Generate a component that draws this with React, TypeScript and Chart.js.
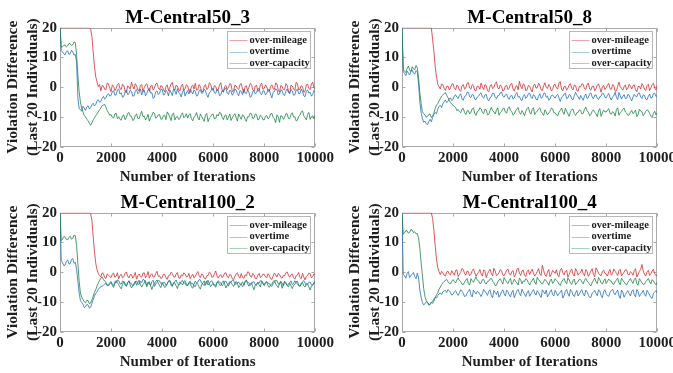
import React, { useEffect, useRef } from "react";
import { Chart, registerables } from "chart.js";

Chart.register(...registerables);

// ---------------- data ----------------
const ITERATIONS = [
  0, 50, 100, 150, 200, 250, 300, 350, 400, 450, 500, 550, 600, 650, 700, 750, 800, 850, 900, 950,
  1000, 1050, 1100, 1150, 1200, 1250, 1300, 1350, 1400, 1450, 1500, 1550, 1600, 1650, 1700, 1750, 1800, 1850, 1900, 1950,
  2000, 2050, 2100, 2150, 2200, 2250, 2300, 2350, 2400, 2450, 2500, 2550, 2600, 2650, 2700, 2750, 2800, 2850, 2900, 2950,
  3000, 3050, 3100, 3150, 3200, 3250, 3300, 3350, 3400, 3450, 3500, 3550, 3600, 3650, 3700, 3750, 3800, 3850, 3900, 3950,
  4000, 4050, 4100, 4150, 4200, 4250, 4300, 4350, 4400, 4450, 4500, 4550, 4600, 4650, 4700, 4750, 4800, 4850, 4900, 4950,
  5000, 5050, 5100, 5150, 5200, 5250, 5300, 5350, 5400, 5450, 5500, 5550, 5600, 5650, 5700, 5750, 5800, 5850, 5900, 5950,
  6000, 6050, 6100, 6150, 6200, 6250, 6300, 6350, 6400, 6450, 6500, 6550, 6600, 6650, 6700, 6750, 6800, 6850, 6900, 6950,
  7000, 7050, 7100, 7150, 7200, 7250, 7300, 7350, 7400, 7450, 7500, 7550, 7600, 7650, 7700, 7750, 7800, 7850, 7900, 7950,
  8000, 8050, 8100, 8150, 8200, 8250, 8300, 8350, 8400, 8450, 8500, 8550, 8600, 8650, 8700, 8750, 8800, 8850, 8900, 8950,
  9000, 9050, 9100, 9150, 9200, 9250, 9300, 9350, 9400, 9450, 9500, 9550, 9600, 9650, 9700, 9750, 9800, 9850, 9900, 9950,
  10000,
];

const SERIES_NAMES = ["over-mileage", "overtime", "over-capacity"];
const PANEL_TITLES = ["M-Central50_3", "M-Central50_8", "M-Central100_2", "M-Central100_4"];
const X_TICKS = [0, 2000, 4000, 6000, 8000, 10000];
const Y_TICKS = [-20, -10, 0, 10, 20];
const X_LABEL = "Number of Iterations";
const Y_LABEL = ["Violation Difference", "(Last 20 Individuals)"];

// ---- M-Central50_3 ----
const P1_MILEAGE = [
  20, 20, 20, 20, 20, 20, 20, 20, 20, 20, 20, 20, 20, 20, 20, 20, 20, 20, 20, 20,
  20, 20, 20, 20, 19.5, 17, 12, 7, 3.5, 1.8, 0.2, 0.9, -1.2, 0.6, 0.4, -0.7, -0.9, 1.4, 1.1, -0.3,
  -1.5, 0.8, 0.2, -1.1, -0.4, 0.9, 1.3, -0.5, -0.8, 1.0, 0.6, -1.3, -1.9, 0.4, 0.1, -0.7, 1.7, 0.3, -0.6, 1.2,
  0.5, -0.9, -1.2, 0.6, 0.9, -1.6, -0.2, 0.8, 1.2, -0.5, -1.4, 0.4, 0.7, -1.0, -0.3, 1.1, 1.4, -0.2, -0.8, 0.5,
  0.3, -0.7, -1.6, 0.2, 0.8, -1.2, -0.1, 1.0, 1.6, -0.4, -1.0, 0.7, 0.4, -0.9, -1.3, 0.5, 1.0, -1.1, -0.5, 0.8,
  0.5, -1.2, -1.8, 0.3, 0.7, -0.6, 1.3, -1.0, -0.9, 0.9, 0.2, -1.5, -1.4, 0.4, 0.9, -0.8, -0.3, 1.5, 1.1, -0.6,
  -1.1, 0.6, 0.3, -1.3, -0.7, 0.8, 1.5, -0.9, -1.6, 0.2, 0.6, -0.8, -0.1, 1.2, 1.0, -1.5, -1.2, 0.7, 0.4, -0.4,
  -0.8, 0.9, 1.2, -0.6, -2.0, 0.1, 0.5, -1.1, -0.2, 1.3, 0.9, -0.9, -1.3, 0.4, 0.7, -1.4, -1.0, 0.8, 1.4, -0.7,
  -0.4, 0.8, 0.1, -1.2, -1.5, 0.3, 0.8, -0.5, -0.7, 1.4, 1.1, -1.0, -1.7, 0.6, 0.3, -0.8, -0.9, 1.2, 0.6, -1.3,
  -2.2, 0.7, 0.4, -0.6, -1.1, 1.6, 1.3, -0.9, -0.6, 0.5, 0.2, -1.7, -1.4, 0.8, 1.0, -0.4, -0.8, 1.1, 1.7, -0.3,
  -0.5,
];
const P1_OVERTIME = [
  20, 12.3, 11.8, 11.2, 10.9, 12.0, 12.2, 11.0, 11.3, 12.4, 11.9, 10.8, 11.0, 8.5, -3.5, -7.2, -7.5, -8.1, -6.4, -7.0,
  -7.8, -6.6, -6.2, -7.3, -6.9, -5.9, -5.4, -6.3, -5.8, -4.6, -4.2, -5.1, -4.8, -3.7, -3.1, -4.0, -3.6, -2.5, -2.2, -3.0,
  -2.8, -1.5, -1.2, -2.7, -2.5, -0.9, -0.6, -2.3, -1.9, -3.4, -3.1, -1.6, -0.9, -2.5, -2.2, -1.0, -1.4, -3.0, -2.9, -1.3,
  -0.8, -2.2, -1.7, -0.6, -2.6, -1.5, -1.0, -2.9, -2.1, -0.8, -0.4, -2.0, -1.8, -3.8, -3.3, -1.6, -1.2, -2.5, -2.0, -0.7,
  -0.7, -2.6, -2.4, -1.1, -1.5, -2.9, -0.9, -1.8, -2.8, -0.6, -1.3, -2.4, -0.5, -1.7, -2.2, -3.3, -1.6, -0.8, -3.0, -1.9,
  -1.1, -2.3, -0.6, -1.5, -2.3, -0.9, -1.4, -3.0, -2.7, -1.2, -0.8, -2.1, -1.9, -0.7, -1.2, -2.6, -3.4, -1.8, -1.5, -0.4,
  -0.6, -1.9, -2.1, -0.8, -1.0, -2.9, -2.6, -1.1, -1.7, -0.5, -0.3, -2.0, -2.4, -1.0, -1.3, -2.7, -2.0, -0.6, -0.9, -2.2,
  -2.9, -1.1, -1.4, -2.5, -0.7, -1.8, -2.2, -0.9, -1.6, -3.4, -3.1, -1.5, -1.0, -2.3, -1.8, -0.6, -0.5, -2.1, -2.5, -1.2,
  -1.3, -2.6, -2.0, -0.9, -0.8, -2.4, -3.6, -1.7, -1.5, -0.5, -0.9, -2.6, -2.3, -1.0, -1.1, -2.5, -2.8, -1.3, -0.6, -1.8,
  -1.9, -0.8, -1.2, -2.7, -2.6, -1.0, -0.7, -2.2, -2.1, -0.6, -1.4, -2.9, -3.2, -1.5, -0.9, -2.0, -1.7, -3.0, -2.4, -1.1,
  -1.6,
];
const P1_CAPACITY = [
  20, 13.4, 13.6, 14.1, 14.2, 13.5, 13.9, 14.7, 14.6, 14.0, 14.3, 15.2, 15.0, 11.0, 4.0, -1.5, -5.0, -7.2, -8.3, -9.5,
  -10.0, -10.8, -11.2, -12.1, -12.8, -12.0, -11.0, -10.3, -9.6, -9.0, -8.3, -7.6, -7.0, -6.2, -6.0, -5.8, -6.8, -7.9, -8.6, -9.4,
  -9.2, -10.1, -10.4, -9.0, -8.7, -10.6, -9.9, -10.8, -11.1, -9.6, -9.3, -10.9, -10.2, -8.8, -8.5, -9.7, -9.8, -11.2, -10.9, -9.4,
  -9.0, -10.5, -10.6, -9.2, -8.1, -9.9, -9.7, -11.0, -10.3, -9.1, -11.4, -10.2, -9.5, -8.4, -8.8, -10.4, -10.1, -9.3, -9.2, -10.7,
  -10.8, -9.6, -9.4, -10.9, -8.3, -9.0, -10.0, -11.2, -9.1, -8.7, -11.0, -10.1, -9.8, -10.9, -10.5, -9.2, -8.6, -10.3, -9.9, -8.9,
  -10.4, -9.3, -8.9, -10.6, -11.3, -10.1, -9.6, -8.5, -10.2, -11.0, -9.0, -9.8, -10.7, -11.5, -9.4, -8.8, -11.6, -10.4, -10.0, -9.1,
  -9.1, -10.7, -10.5, -9.2, -9.7, -8.4, -8.7, -10.1, -10.9, -9.6, -9.3, -11.0, -10.1, -9.0, -11.2, -10.3, -9.5, -8.9, -10.3, -11.4,
  -9.0, -9.9, -10.8, -9.3, -9.6, -10.7, -11.5, -9.9, -10.0, -8.7, -8.9, -10.5, -10.4, -9.0, -9.2, -11.0, -10.7, -9.4, -9.8, -10.9,
  -11.0, -9.8, -9.5, -10.6, -10.2, -9.0, -8.8, -10.1, -10.6, -11.9, -9.3, -10.0, -11.8, -9.6, -9.7, -10.8, -10.1, -8.9, -9.0, -10.5,
  -10.5, -9.2, -8.6, -10.0, -9.9, -11.3, -11.1, -9.8, -9.4, -8.4, -7.9, -9.6, -10.3, -11.0, -9.1, -8.5, -10.8, -9.9, -9.6, -10.6,
  -9.3,
];

// ---- M-Central50_8 ----
const P2_MILEAGE = [
  20, 20, 20, 20, 20, 20, 20, 20, 20, 20, 20, 20, 20, 20, 20, 20, 20, 20, 20, 20,
  20, 20, 20, 20, 16, 12, 7, 3.5, 1.0, 0.2, -0.6, 1.1, 0.8, -0.4, -1.1, 0.3, 0.4, -0.9, -0.3, 1.0,
  1.2, -0.4, -0.9, 0.7, 0.3, -1.0, -1.4, 0.5, 0.9, -0.6, -0.2, 1.3, 1.6, -0.3, -0.7, 0.9, 0.5, -1.1, -1.2, 0.4,
  0.2, -0.7, 1.4, 0.1, -0.8, 0.9, 0.6, -1.2, -1.5, 0.4, 0.9, -0.5, -0.1, 1.2, 1.8, -0.2, -0.6, 0.8, 0.3, -1.3,
  -1.0, 0.4, 0.7, -0.8, -0.4, 1.0, 1.3, -0.6, -1.3, 0.2, 0.5, -0.9, 2.0, 0.3, -0.5, 1.1, 0.8, -1.2, -0.9, 0.6,
  0.4, -0.8, -1.6, 0.6, 1.1, -0.3, -0.2, 1.4, 0.7, -0.9, -1.1, 0.5, 1.5, -0.1, -0.4, 0.9, 0.2, -1.3, -0.8, 0.8,
  1.0, -0.3, -0.6, 1.3, 1.9, -0.7, -1.2, 0.2, 0.3, -1.0, -0.3, 0.8, 1.2, -0.4, -0.9, 0.7, 0.6, -1.1, -1.4, 0.3,
  0.1, 1.2, 0.9, -0.5, -0.7, 0.8, 1.4, -0.6, -1.0, 0.3, 0.4, -1.2, -0.5, 0.7, 1.1, -0.2, -1.7, 0.1, 0.6, -0.8,
  -0.2, 0.7, 1.3, -0.5, -0.8, 0.9, 0.5, -1.4, -1.2, 0.3, 1.7, 0.2, -0.4, -1.0, 0.2, 0.8, -0.9, -0.3, 1.0, 0.4,
  -0.6, 0.5, 0.8, -0.9, -1.5, 0.2, 0.3, -0.6, 1.2, 0.6, -0.7, -1.1, 0.5, 1.0, -1.1, -0.3, 0.9, 1.3, -0.3, -0.9,
  0.6,
];
const P2_OVERTIME = [
  20, 5.2, 4.6, 3.9, 5.4, 4.8, 4.1, 5.3, 5.8, 4.7, 4.4, 5.6, 5.1, 1.0, -5.0, -8.6, -10.5, -11.8, -11.4, -12.3,
  -12.6, -11.5, -10.8, -11.6, -10.2, -9.1, -8.5, -8.9, -7.4, -6.5, -6.1, -6.8, -5.6, -4.9, -4.3, -5.2, -4.8, -3.9, -3.6, -4.5,
  -4.1, -3.0, -2.5, -3.4, -3.8, -2.7, -2.2, -3.9, -4.4, -3.1, -2.9, -1.7, -1.8, -3.2, -3.5, -2.4, -2.6, -4.0, -4.2, -3.3,
  -3.0, -2.2, -1.9, -3.3, -3.7, -2.6, -2.4, -4.1, -4.6, -3.5, -3.2, -2.0, -2.1, -3.4, -3.9, -2.9, -2.8, -1.9, -1.6, -3.0,
  -3.4, -2.6, -2.3, -3.6, -4.1, -3.0, -2.7, -4.0, -3.6, -2.4, -1.8, -3.3, -3.1, -4.2, -4.5, -3.1, -2.5, -3.8, -3.3, -2.2,
  -2.0, -3.3, -3.8, -2.5, -2.9, -4.0, -4.3, -3.1, -2.2, -3.7, -3.5, -2.1, -1.9, -3.4, -3.0, -4.4, -4.0, -2.8, -2.6, -3.2,
  -3.7, -2.8, -2.4, -3.6, -4.8, -3.4, -3.1, -2.3, -2.0, -3.9, -3.6, -2.5, -2.7, -4.0, -4.2, -2.9, -1.7, -2.6, -3.3, -4.1,
  -2.8, -3.6, -4.4, -3.0, -2.3, -3.8, -3.5, -2.2, -1.9, -3.3, -3.9, -2.7, -2.6, -3.7, -4.1, -3.2, -3.0, -2.0, -2.2, -3.4,
  -3.6, -2.7, -2.1, -3.5, -4.3, -3.2, -2.9, -1.7, -3.4, -4.2, -1.8, -2.9, -4.0, -3.1, -2.5, -3.8, -3.7, -2.4, -2.7, -3.9,
  -4.6, -3.3, -2.4, -3.0, -3.2, -2.1, -1.9, -3.3, -3.8, -2.6, -2.8, -4.0, -4.2, -3.1, -2.3, -3.6, -3.5, -2.2, -2.0, -3.1,
  -2.9,
];
const P2_CAPACITY = [
  20, 6.0, 5.4, 4.9, 6.3, 7.1, 5.8, 5.2, 6.9, 6.1, 5.9, 7.3, 6.5, 3.0, -2.0, -5.5, -8.2, -8.9, -9.3, -10.1,
  -9.8, -9.2, -9.0, -10.2, -9.6, -8.7, -7.2, -6.1, -5.5, -4.6, -3.9, -3.0, -2.6, -2.1, -1.8, -2.7, -3.5, -4.4, -5.2, -5.7,
  -6.1, -6.5, -6.8, -7.9, -7.5, -8.2, -8.6, -7.4, -7.1, -8.5, -9.2, -8.0, -7.8, -9.0, -8.4, -7.3, -6.9, -8.8, -9.5, -8.2,
  -8.0, -6.9, -7.3, -8.5, -8.9, -7.4, -7.6, -9.3, -9.1, -7.8, -6.8, -7.9, -8.3, -9.0, -7.7, -6.9, -9.4, -8.6, -8.1, -7.2,
  -7.0, -8.4, -8.7, -7.1, -6.6, -7.8, -8.2, -9.4, -9.0, -8.0, -7.4, -6.8, -8.5, -9.1, -7.9, -8.6, -9.6, -8.1, -7.2, -6.7,
  -8.4, -9.1, -7.5, -6.9, -9.2, -8.5, -8.0, -7.3, -6.9, -8.2, -8.8, -9.5, -7.6, -8.3, -9.3, -8.7, -8.1, -7.0, -7.3, -8.6,
  -8.6, -9.3, -9.7, -8.4, -7.8, -7.0, -8.3, -9.1, -7.1, -8.0, -9.0, -9.8, -8.2, -7.5, -7.4, -8.8, -9.5, -8.6, -8.5, -7.6,
  -7.9, -9.0, -8.8, -7.4, -6.7, -7.9, -8.4, -9.6, -9.2, -8.1, -7.6, -8.5, -8.9, -9.9, -8.0, -7.2, -9.8, -8.7, -7.7, -8.3,
  -8.3, -7.6, -7.2, -8.8, -9.1, -8.2, -8.6, -9.7, -7.5, -6.9, -9.4, -8.6, -8.1, -7.4, -7.0, -8.3, -8.7, -9.5, -9.3, -8.4,
  -7.8, -8.9, -8.5, -7.7, -9.9, -9.2, -7.4, -8.0, -8.2, -9.6, -9.0, -8.1, -7.6, -7.9, -8.8, -9.7, -10.2, -8.8, -8.1, -9.3,
  -8.6,
];

// ---- M-Central100_2 ----
const P3_MILEAGE = [
  20, 20, 20, 20, 20, 20, 20, 20, 20, 20, 20, 20, 20, 20, 20, 20, 20, 20, 20, 20,
  20, 20, 20, 20, 19.6, 17.5, 12, 7, 3, 0.9, -0.4, -1.1, -1.6, -0.2, -0.5, -1.8, -2.1, -0.6, -0.9, -1.5,
  -1.8, -0.6, -0.3, -1.7, -1.4, -0.2, -2.2, -1.1, -0.7, -1.9, -1.5, -0.4, 0.1, -1.3, -1.9, -0.8, -0.8, -2.0, -1.3, -0.1,
  -2.3, -1.2, -0.6, -1.5, -1.7, -0.3, -0.2, -1.9, -1.1, 0.2, -2.0, -1.0, -0.5, -1.6, -1.6, -0.4, 0.3, -1.4, -1.2, -2.1,
  -1.9, -0.7, -0.8, -1.8, -2.4, -1.2, -1.0, 0.0, -0.4, -1.5, -1.7, -0.6, -0.1, -1.9, -2.1, -0.9, -1.3, -0.2, -0.6, -1.6,
  -1.5, -0.4, -2.2, -1.3, -0.7, -1.9, -1.4, -0.5, 0.2, -1.1, -1.8, -0.6, -0.9, -2.0, -2.3, -1.2, -1.1, 0.0, -0.3, -1.7,
  -1.6, -0.5, 0.4, -1.3, -2.0, -1.1, -0.8, -1.8, -1.3, -0.3, -0.2, -1.5, -1.9, -0.7, -1.0, -2.2, -2.5, -1.4, -0.6, -0.2,
  -1.4, -2.0, -0.5, -1.6, -2.1, -0.9, -1.2, 0.1, 0.0, -1.3, -1.7, -0.4, -0.9, -2.1, -2.2, -1.0, -0.4, -1.8, -1.5, -0.7,
  -0.7, -1.6, -1.9, -0.5, -1.1, -2.2, -2.4, -1.3, -0.3, -0.9, -1.6, -0.4, -0.8, -1.7, -2.0, -1.1, -1.2, -0.2, 0.1, -1.0,
  -1.7, -0.9, -0.6, -1.8, -2.3, -1.2, -1.0, -0.1, -1.8, -2.2, -0.4, -1.6, -2.6, -1.4, -1.1, -0.3, -0.5, -1.9, -1.4, -0.6,
  -0.8,
];
const P3_OVERTIME = [
  20, 3.8, 3.2, 2.2, 2.4, 3.7, 4.1, 2.8, 2.9, 4.3, 4.6, 3.0, 3.3, 1.0, -3.0, -7.0, -9.5, -10.2, -10.8, -11.9,
  -11.6, -10.9, -11.0, -12.1, -11.8, -10.5, -9.2, -8.0, -7.1, -6.6, -5.8, -5.2, -4.9, -4.7, -4.4, -4.0, -3.8, -4.6, -4.2, -3.5,
  -3.1, -4.0, -4.5, -3.2, -3.6, -2.6, -2.8, -3.9, -4.0, -3.0, -3.3, -4.4, -4.7, -3.5, -2.9, -3.7, -3.8, -4.6, -4.3, -3.2,
  -3.0, -3.9, -4.1, -3.0, -3.5, -2.4, -2.6, -3.8, -4.4, -3.3, -3.7, -4.5, -3.1, -2.7, -4.8, -4.0, -3.4, -2.8, -2.9, -3.8,
  -4.2, -3.5, -3.3, -4.4, -3.9, -2.9, -2.7, -3.6, -4.6, -3.8, -3.2, -2.6, -3.8, -4.3, -4.1, -3.1, -2.8, -3.7, -3.6, -4.5,
  -4.4, -3.4, -3.0, -3.9, -3.7, -4.6, -4.9, -3.6, -3.3, -2.5, -2.6, -3.7, -4.0, -4.5, -3.5, -2.9, -4.3, -3.8, -3.1, -2.9,
  -3.8, -4.2, -4.5, -3.4, -2.9, -3.3, -3.6, -4.5, -4.2, -3.1, -3.0, -3.8, -4.7, -3.6, -3.4, -2.7, -2.8, -3.9, -4.1, -3.5,
  -3.3, -4.1, -3.9, -4.8, -4.6, -3.2, -2.7, -3.4, -3.5, -4.4, -4.0, -3.3, -3.2, -4.2, -4.4, -3.5, -3.7, -2.8, -2.9, -3.9,
  -4.3, -3.4, -3.1, -3.7, -3.8, -4.5, -4.8, -3.7, -3.4, -2.7, -2.8, -3.9, -4.1, -3.3, -3.6, -4.6, -3.0, -3.5, -4.5, -4.0,
  -3.5, -2.9, -4.2, -3.8, -2.9, -3.4, -3.9, -4.5, -4.7, -3.8, -3.2, -2.8, -3.7, -4.3, -4.0, -3.4, -3.3, -4.2, -4.4, -3.6,
  -3.0,
];
const P3_CAPACITY = [
  20, 10.6, 11.2, 12.0, 11.8, 11.0, 10.9, 11.7, 12.1, 11.1, 11.4, 12.5, 12.3, 9.0, 3.0, -3.0, -7.0, -8.4, -9.2, -9.9,
  -10.3, -9.4, -9.6, -10.6, -10.4, -9.3, -8.1, -6.8, -5.9, -4.6, -3.7, -2.8, -2.0, -1.6, -2.4, -3.0, -3.3, -4.1, -4.6, -3.9,
  -3.5, -4.4, -5.1, -3.9, -2.8, -3.5, -4.2, -5.0, -5.6, -4.1, -3.1, -3.8, -4.7, -3.6, -2.9, -4.3, -5.3, -4.5, -3.8, -3.0,
  -4.4, -3.4, -2.7, -4.1, -5.0, -4.2, -3.6, -2.8, -4.9, -4.0, -3.2, -4.6, -5.8, -4.5, -3.9, -3.1, -2.6, -3.7, -4.5, -5.2,
  -3.4, -4.2, -5.2, -4.8, -4.0, -3.1, -2.9, -4.4, -4.8, -3.5, -3.7, -4.6, -5.5, -4.1, -3.3, -3.8, -4.3, -3.2, -2.8, -4.0,
  -4.6, -3.7, -3.5, -4.9, -5.4, -4.0, -3.0, -3.6, -4.1, -5.0, -5.7, -4.2, -3.6, -2.9, -4.4, -3.3, -2.7, -3.9, -4.9, -4.1,
  -3.8, -4.7, -5.0, -3.6, -3.2, -4.3, -4.5, -3.4, -2.9, -4.1, -5.3, -4.4, -4.0, -3.1, -3.4, -4.2, -4.8, -3.9, -3.1, -3.7,
  -5.2, -4.5, -3.9, -3.2, -4.3, -3.3, -2.6, -3.9, -4.7, -4.0, -3.5, -4.8, -5.9, -4.4, -3.8, -3.4, -4.2, -5.0, -3.0, -3.6,
  -4.5, -3.6, -3.3, -4.5, -5.1, -4.2, -4.0, -3.1, -2.8, -3.9, -4.6, -5.2, -3.6, -3.0, -5.4, -4.3, -3.2, -3.9, -4.4, -5.0,
  -3.7, -4.6, -5.5, -4.4, -4.1, -3.2, -3.0, -4.3, -4.8, -4.0, -3.4, -4.6, -5.0, -3.8, -3.9, -4.9, -6.0, -4.7, -4.2, -3.5,
  -3.6,
];

// ---- M-Central100_4 ----
const P4_MILEAGE = [
  20, 20, 20, 20, 20, 20, 20, 20, 20, 20, 20, 20, 20, 20, 20, 20, 20, 20, 20, 20,
  20, 20, 20, 20, 18, 14, 9, 4.5, 1.5, 0.2, -0.8, 0.3, -0.2, -1.0, -1.3, 0.1, 0.4, -0.6, -0.9, 0.5,
  -0.3, -1.0, 0.6, 0.8, -1.5, -0.7, -0.1, 1.3, 0.9, -0.4, -1.0, 0.4, 0.2, -1.2, -0.7, 0.5, 1.1, -0.2, -1.4, -0.6,
  0.0, 0.9, -0.6, -1.3, 0.8, 0.3, -1.8, -0.5, 0.3, 1.0, -0.4, -1.2, 1.3, 0.4, -1.1, -0.8, -0.2, 0.9, 0.5, -0.9,
  -1.2, -0.3, 0.7, 1.1, -0.5, -1.0, 0.1, 0.6, -1.6, -0.8, 0.9, 1.4, -0.3, -1.1, 0.4, 0.7, -1.0, -1.5, 0.2, 0.8,
  -0.8, 0.2, 1.0, -0.4, -1.3, -0.6, 0.3, 1.2, -0.6, -1.1, 2.4, 0.5, -0.9, -1.4, 0.1, 0.9, -1.5, -0.7, 0.6, 0.1,
  -0.4, 0.8, -1.1, -1.5, 0.8, 1.3, -0.2, -0.9, 0.3, 0.6, -1.7, -0.8, 0.5, 1.1, -0.7, -1.3, 1.2, 0.4, -1.0, -0.3,
  0.0, 1.0, -0.5, -1.2, 0.9, 0.2, -1.4, -0.6, 0.4, 1.2, -0.8, -1.5, 1.5, 0.7, -0.3, -0.9, -1.2, 0.3, 0.7, -0.4,
  -0.6, -1.3, 0.2, 0.9, -1.0, -0.5, 1.1, 0.3, -0.4, -1.1, 0.5, 1.0, -1.3, -0.6, 0.0, 0.8, 0.8, -0.7, -0.9, 0.2,
  -0.2, -1.0, 0.6, 1.2, -1.6, -0.8, 0.3, 0.9, 2.6, 0.4, -0.7, -1.3, 0.1, 0.6, -1.1, -0.5, 0.4, 1.0, -0.5, -1.2,
  -1.0,
];
const P4_OVERTIME = [
  20, -0.8, -1.2, -2.0, -0.4, 0.2, -1.8, -1.1, -0.6, -0.1, -1.5, -2.2, -0.3, -2.0, -6.0, -8.5, -10.2, -11.0, -10.6, -9.9,
  -10.1, -10.7, -10.9, -10.2, -9.8, -9.0, -8.4, -8.7, -7.9, -7.3, -7.0, -7.5, -6.6, -6.3, -6.1, -6.8, -5.8, -6.2, -6.9, -7.7,
  -7.4, -6.6, -6.2, -7.1, -7.8, -6.9, -5.9, -6.4, -7.1, -8.2, -8.0, -7.0, -6.5, -5.7, -7.6, -8.3, -6.0, -6.7, -7.3, -6.4,
  -6.7, -7.5, -8.2, -7.1, -5.8, -6.5, -7.0, -7.8, -6.4, -5.9, -7.9, -8.6, -6.1, -6.8, -7.5, -6.3, -8.4, -7.6, -6.6, -5.9,
  -7.2, -8.0, -6.0, -6.5, -7.7, -8.3, -6.8, -6.1, -8.6, -7.4, -6.3, -5.8, -7.1, -7.9, -5.7, -6.6, -7.4, -8.2, -6.9, -6.2,
  -8.1, -7.3, -6.5, -5.8, -7.0, -7.7, -6.2, -6.9, -7.8, -8.5, -5.9, -6.6, -7.3, -6.0, -8.3, -7.6, -6.6, -5.9, -7.5, -8.0,
  -6.1, -6.9, -7.9, -7.2, -6.8, -6.0, -8.7, -7.9, -6.4, -5.8, -7.2, -8.1, -5.8, -6.5, -7.6, -8.2, -6.9, -6.1, -8.0, -7.3,
  -6.3, -5.9, -7.4, -8.0, -6.0, -6.6, -7.7, -8.4, -8.5, -7.0, -6.7, -6.1, -7.1, -7.9, -5.9, -6.4, -7.8, -8.6, -6.5, -5.9,
  -7.3, -7.9, -8.1, -6.8, -6.2, -5.7, -7.0, -7.6, -6.6, -6.0, -7.9, -8.8, -6.0, -6.7, -8.4, -7.5, -6.8, -6.2, -7.2, -8.0,
  -6.4, -5.9, -7.6, -8.3, -5.8, -6.5, -8.2, -7.4, -6.9, -6.1, -7.4, -8.1, -6.1, -6.8, -7.7, -8.5, -8.8, -7.1, -6.7, -6.2,
  -7.0,
];
const P4_CAPACITY = [
  20, 12.8, 13.2, 14.0, 13.9, 13.1, 13.4, 14.4, 14.1, 13.3, 13.6, 12.9, 13.0, 11.5, 8.0, 3.0, -1.0, -5.5, -8.2, -9.6,
  -10.2, -11.1, -10.8, -10.0, -10.5, -9.7, -8.6, -7.6, -6.9, -5.8, -5.0, -4.2, -3.6, -3.1, -2.8, -2.4, -3.2, -3.7, -3.9, -3.0,
  -2.5, -3.1, -3.6, -2.6, -1.9, -2.8, -3.1, -4.0, -4.2, -3.3, -2.7, -2.1, -3.8, -4.3, -2.2, -2.9, -3.4, -2.4, -1.6, -2.7,
  -2.9, -3.8, -3.7, -2.5, -2.4, -3.5, -4.0, -3.1, -3.0, -2.3, -2.1, -3.0, -3.5, -4.5, -4.4, -3.3, -2.6, -2.2, -3.2, -4.0,
  -1.8, -2.6, -3.3, -3.8, -2.8, -2.1, -4.1, -3.4, -2.3, -3.1, -3.6, -4.3, -2.0, -2.6, -3.9, -3.0, -3.1, -2.2, -2.5, -3.5,
  -4.3, -3.4, -2.7, -2.0, -3.4, -4.1, -1.7, -2.5, -3.0, -3.7, -4.0, -3.1, -2.4, -2.9, -3.5, -4.4, -2.9, -2.3, -3.8, -3.2,
  -2.2, -2.8, -3.1, -4.0, -4.5, -3.3, -2.6, -2.1, -3.3, -3.9, -1.9, -2.6, -3.7, -4.1, -2.8, -2.3, -4.2, -3.6, -3.0, -2.4,
  -2.5, -3.3, -3.9, -2.7, -2.1, -3.0, -3.4, -4.1, -4.6, -3.5, -2.7, -2.0, -3.2, -3.8, -1.8, -2.5, -3.6, -4.0, -2.9, -2.2,
  -3.8, -3.0, -2.3, -2.9, -3.0, -3.9, -4.1, -3.2, -2.6, -2.0, -3.5, -4.2, -2.0, -2.7, -3.3, -3.9, -4.3, -3.4, -2.8, -2.1,
  -3.1, -3.8, -2.4, -1.9, -3.9, -4.4, -2.2, -2.8, -3.6, -4.1, -4.0, -3.2, -2.7, -2.1, -3.2, -3.9, -2.5, -3.0, -3.7, -4.2,
  -3.4,
];

const PANEL_SERIES = [
  [P1_MILEAGE, P1_OVERTIME, P1_CAPACITY],
  [P2_MILEAGE, P2_OVERTIME, P2_CAPACITY],
  [P3_MILEAGE, P3_OVERTIME, P3_CAPACITY],
  [P4_MILEAGE, P4_OVERTIME, P4_CAPACITY],
];

// ---------------- styling ----------------
const FONT = '"Liberation Serif", "Times New Roman", Times, serif';
const LINE_COLORS = ["rgba(214,45,50,0.8)", "rgba(35,112,188,0.8)", "rgba(30,132,72,0.8)"];
const LEGEND_COLORS = ["#f0a3a6", "#a6c9e8", "#a6d4b6"];
const AXIS_COLOR = "#a9a9a9";
const TEXT_COLOR = "#1e1e1e";
const CANVAS_W = 336;
const CANVAS_H = 186;
const PANEL_POS = [
  { left: 0, top: 0 },
  { left: 342, top: 0 },
  { left: 0, top: 185 },
  { left: 342, top: 185 },
];

function makeBoxPlugin(title: string) {
  return {
    id: "matlabBox",
    beforeDatasetsDraw(chart: any) {
      const { ctx, chartArea: a, scales } = chart;
      ctx.save();
      ctx.strokeStyle = AXIS_COLOR;
      ctx.lineWidth = 1;
      const l = Math.round(a.left) + 0.5;
      const r = Math.round(a.right) - 0.5;
      const t = Math.round(a.top) + 0.5;
      const b = Math.round(a.bottom) - 0.5;
      ctx.strokeRect(l, t, r - l, b - t);
      const tl = 3;
      ctx.beginPath();
      scales.x.ticks.forEach((tk: any) => {
        const px = Math.round(scales.x.getPixelForValue(tk.value)) + 0.5;
        ctx.moveTo(px, b);
        ctx.lineTo(px, b - tl);
        ctx.moveTo(px, t);
        ctx.lineTo(px, t + tl);
      });
      scales.y.ticks.forEach((tk: any) => {
        const py = Math.round(scales.y.getPixelForValue(tk.value)) + 0.5;
        ctx.moveTo(l, py);
        ctx.lineTo(l + tl, py);
        ctx.moveTo(r, py);
        ctx.lineTo(r - tl, py);
      });
      ctx.stroke();
      ctx.restore();
    },
    afterDatasetsDraw(chart: any) {
      const { ctx, chartArea: a } = chart;
      ctx.save();
      // title, centred over the plot area
      ctx.font = `bold 19px ${FONT}`;
      ctx.fillStyle = "#000";
      ctx.textAlign = "center";
      ctx.textBaseline = "alphabetic";
      ctx.fillText(title, (a.left + a.right) / 2, a.top - 4.5);
      // legend box
      const bw = 83;
      const bh = 37;
      const bx = Math.round(a.right - 5 - bw) + 0.5;
      const by = Math.round(a.top + 3.5) + 0.5;
      ctx.fillStyle = "#ffffff";
      ctx.fillRect(bx, by, bw, bh);
      ctx.strokeStyle = "#b8b8b8";
      ctx.lineWidth = 1;
      ctx.strokeRect(bx, by, bw, bh);
      ctx.font = `bold 10.5px ${FONT}`;
      ctx.textBaseline = "middle";
      ctx.textAlign = "left";
      SERIES_NAMES.forEach((name, i) => {
        const cy = by + 8.5 + i * 11.5;
        ctx.strokeStyle = LEGEND_COLORS[i];
        ctx.beginPath();
        ctx.moveTo(bx + 2, Math.round(cy) + 0.5);
        ctx.lineTo(bx + 20, Math.round(cy) + 0.5);
        ctx.stroke();
        ctx.fillStyle = TEXT_COLOR;
        ctx.fillText(name, bx + 22, cy);
      });
      ctx.restore();
    },
  };
}

function Panel({ index }: { index: number }) {
  const ref = useRef<HTMLCanvasElement>(null);
  useEffect(() => {
    const series = PANEL_SERIES[index];
    const chart = new Chart(ref.current as HTMLCanvasElement, {
      type: "line",
      data: {
        labels: ITERATIONS,
        datasets: series.map((d, i) => ({
          label: SERIES_NAMES[i],
          data: d,
          borderColor: LINE_COLORS[i],
          backgroundColor: LINE_COLORS[i],
          borderWidth: 1,
          pointRadius: 0,
          tension: 0,
          fill: false,
          order: 3 - i,
        })),
      },
      options: {
        responsive: false,
        animation: false,
        devicePixelRatio: 1,
        layout: { padding: { left: 0, right: 20, top: 27.7, bottom: 0 } },
        plugins: {
          legend: { display: false },
          tooltip: { enabled: false },
          title: { display: false },
        },
        scales: {
          x: {
            type: "linear",
            min: 0,
            max: 10000,
            afterBuildTicks: (s: any) => {
              s.ticks = X_TICKS.map((v) => ({ value: v }));
            },
            afterFit: (s: any) => {
              s.height = 39.3;
            },
            ticks: {
              callback: (v: any) => String(v),
              color: TEXT_COLOR,
              font: { family: FONT, size: 15, weight: "bold" },
              padding: 2,
              maxRotation: 0,
              autoSkip: false,
            },
            grid: { display: false, drawTicks: false },
            border: { display: false },
            title: {
              display: true,
              text: X_LABEL,
              color: TEXT_COLOR,
              font: { family: FONT, size: 15, weight: "bold", lineHeight: 1.25 },
              padding: { top: 0, bottom: 0 },
            },
          },
          y: {
            type: "linear",
            min: -20,
            max: 20,
            afterBuildTicks: (s: any) => {
              s.ticks = Y_TICKS.map((v) => ({ value: v }));
            },
            afterFit: (s: any) => {
              s.width = 60;
            },
            ticks: {
              callback: (v: any) => String(v),
              color: TEXT_COLOR,
              font: { family: FONT, size: 15, weight: "bold" },
              padding: 3,
            },
            grid: { display: false, drawTicks: false },
            border: { display: false },
            title: {
              display: true,
              text: Y_LABEL,
              color: TEXT_COLOR,
              font: { family: FONT, size: 15.5, weight: "bold", lineHeight: 1.3 },
              padding: { top: 3, bottom: 0 },
            },
          },
        },
      } as any,
      plugins: [makeBoxPlugin(PANEL_TITLES[index])],
    });
    return () => chart.destroy();
  }, [index]);
  const pos = PANEL_POS[index];
  return (
    <canvas
      ref={ref}
      width={CANVAS_W}
      height={CANVAS_H}
      style={{ position: "absolute", left: pos.left, top: pos.top, width: CANVAS_W, height: CANVAS_H }}
    />
  );
}

export default function App() {
  return (
    <div
      style={{
        position: "fixed",
        left: 0,
        top: 0,
        width: 673,
        height: 373,
        overflow: "hidden",
        background: "#ffffff",
      }}
    >
      {PANEL_TITLES.map((_, i) => (
        <Panel key={i} index={i} />
      ))}
    </div>
  );
}
